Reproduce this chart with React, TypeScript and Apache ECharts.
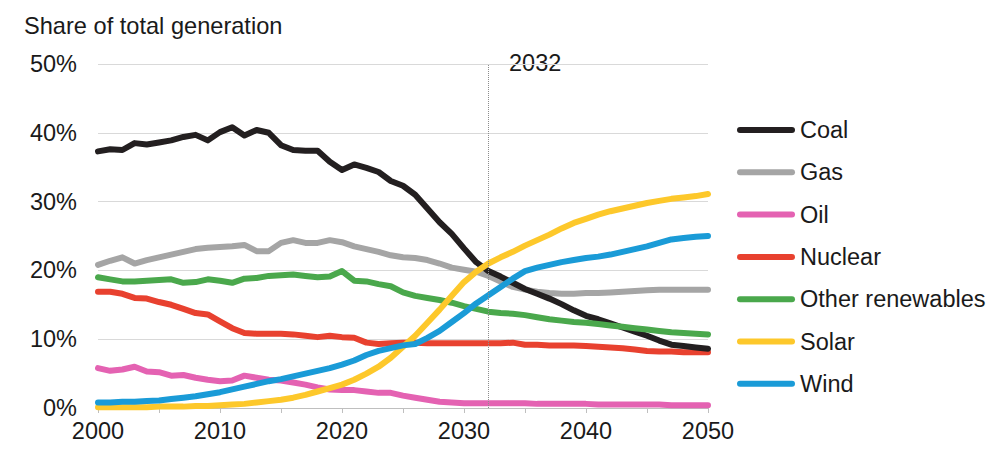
import React, { useEffect, useRef } from "react";
import * as echarts from "echarts";

const years: number[] = Array.from({ length: 51 }, (_, i) => 2000 + i);

const coal = [37.3, 37.6, 37.5, 38.5, 38.3, 38.6, 38.9, 39.4, 39.7, 38.9, 40.1, 40.8, 39.6, 40.4, 40.0, 38.2, 37.5, 37.4, 37.4, 35.8, 34.6, 35.4, 34.9, 34.3, 33.0, 32.3, 31.0, 29.0, 27.0, 25.3, 23.2, 21.2, 19.9, 19.1, 18.2, 17.3, 16.6, 15.9, 15.1, 14.2, 13.4, 12.9, 12.3, 11.7, 11.1, 10.5, 9.8, 9.2, 9.0, 8.8, 8.6];
const gas = [20.8, 21.4, 21.9, 21.0, 21.5, 21.9, 22.3, 22.7, 23.1, 23.3, 23.4, 23.5, 23.7, 22.8, 22.8, 24.0, 24.4, 24.0, 24.0, 24.4, 24.1, 23.5, 23.1, 22.7, 22.2, 21.9, 21.8, 21.5, 21.0, 20.4, 20.1, 19.8, 19.2, 18.4, 17.6, 17.2, 16.9, 16.7, 16.6, 16.6, 16.7, 16.7, 16.8, 16.9, 17.0, 17.1, 17.2, 17.2, 17.2, 17.2, 17.2];
const oil = [5.8, 5.4, 5.6, 6.0, 5.3, 5.2, 4.7, 4.8, 4.4, 4.1, 3.9, 4.0, 4.7, 4.4, 4.1, 4.0, 3.7, 3.4, 3.0, 2.7, 2.6, 2.6, 2.4, 2.2, 2.2, 1.8, 1.5, 1.2, 0.9, 0.8, 0.7, 0.7, 0.7, 0.7, 0.7, 0.7, 0.6, 0.6, 0.6, 0.6, 0.6, 0.5, 0.5, 0.5, 0.5, 0.5, 0.5, 0.4, 0.4, 0.4, 0.4];
const nuclear = [16.9, 16.9, 16.6, 16.0, 15.9, 15.4, 15.0, 14.4, 13.8, 13.6, 12.6, 11.6, 10.9, 10.8, 10.8, 10.8, 10.7, 10.5, 10.3, 10.5, 10.3, 10.2, 9.5, 9.3, 9.4, 9.5, 9.5, 9.4, 9.4, 9.4, 9.4, 9.4, 9.4, 9.4, 9.5, 9.2, 9.2, 9.1, 9.1, 9.1, 9.0, 8.9, 8.8, 8.7, 8.5, 8.3, 8.2, 8.2, 8.1, 8.1, 8.1];
const otherRenewables = [19.0, 18.7, 18.4, 18.4, 18.5, 18.6, 18.7, 18.2, 18.3, 18.7, 18.5, 18.2, 18.8, 18.9, 19.2, 19.3, 19.4, 19.2, 19.0, 19.1, 19.9, 18.5, 18.4, 18.0, 17.7, 16.8, 16.3, 16.0, 15.7, 15.3, 14.8, 14.4, 14.0, 13.8, 13.7, 13.5, 13.2, 12.9, 12.7, 12.5, 12.4, 12.2, 12.0, 11.8, 11.6, 11.4, 11.2, 11.0, 10.9, 10.8, 10.7];
const solar = [0.1, 0.1, 0.1, 0.1, 0.1, 0.2, 0.2, 0.2, 0.3, 0.3, 0.4, 0.5, 0.6, 0.8, 1.0, 1.2, 1.5, 1.9, 2.4, 2.9, 3.4, 4.1, 5.0, 6.0, 7.3, 8.9, 10.5, 12.4, 14.3, 16.3, 18.3, 19.8, 21.0, 21.9, 22.7, 23.6, 24.4, 25.2, 26.1, 26.9, 27.5, 28.1, 28.6, 29.0, 29.4, 29.8, 30.1, 30.4, 30.6, 30.8, 31.1];
const wind = [0.8, 0.8, 0.9, 0.9, 1.0, 1.1, 1.3, 1.5, 1.7, 2.0, 2.3, 2.7, 3.1, 3.5, 3.9, 4.2, 4.6, 5.0, 5.4, 5.8, 6.3, 6.9, 7.7, 8.3, 8.7, 9.1, 9.3, 10.2, 11.2, 12.5, 13.8, 15.2, 16.4, 17.6, 18.8, 19.9, 20.4, 20.8, 21.2, 21.5, 21.8, 22.0, 22.3, 22.7, 23.1, 23.5, 24.0, 24.5, 24.7, 24.9, 25.0];

const legendOrder = ["Coal", "Gas", "Oil", "Nuclear", "Other renewables", "Solar", "Wind"];
const markerYear = 2032;

const FONT = "'Liberation Sans', Arial, sans-serif";
const TEXT = "#1a1a1a";
const PILL = "path://M3,0 L55,0 A3,3 0 0 1 55,6 L3,6 A3,3 0 0 1 3,0 Z";

export default function App() {
  const ref = useRef<HTMLDivElement>(null);

  useEffect(() => {
    document.body.style.margin = "0";
    if (!ref.current) return;
    const chart = echarts.init(ref.current, undefined, { renderer: "svg" });

    const mk = (name: string, values: number[], color: string, extra: any = {}) => ({
      name,
      type: "line",
      data: years.map((y, i) => [y, values[i]]),
      symbol: "none",
      showSymbol: false,
      smooth: false,
      lineStyle: { color, width: 6, cap: "round", join: "round" },
      itemStyle: { color },
      ...extra,
    });

    const option: any = {
      animation: false,
      textStyle: { fontFamily: FONT },
      title: {
        text: "Share of total generation",
        left: 19,
        top: 9,
        textStyle: { fontFamily: FONT, fontSize: 23.6, fontWeight: "normal", color: TEXT },
      },
      grid: { left: 98, right: 292, top: 64, bottom: 60 },
      legend: {
        orient: "vertical",
        left: 732,
        top: 113,
        data: legendOrder,
        selectedMode: false,
        icon: PILL,
        itemWidth: 58,
        itemHeight: 6,
        itemGap: 18.3,
        textStyle: { fontFamily: FONT, fontSize: 23.5, color: TEXT, lineHeight: 23 },
      },
      xAxis: {
        type: "value",
        min: 2000,
        max: 2050,
        interval: 5,
        axisLine: { show: true, lineStyle: { color: "#bfbfbf", width: 1 } },
        axisTick: { show: true, length: 5, lineStyle: { color: "#bfbfbf" } },
        splitLine: { show: false },
        axisLabel: {
          margin: 11,
          fontFamily: FONT,
          fontSize: 23.5,
          color: TEXT,
          formatter: (v: number) => (v % 10 === 0 ? String(v) : ""),
        },
      },
      yAxis: {
        type: "value",
        min: 0,
        max: 50,
        interval: 10,
        axisLine: { show: false },
        axisTick: { show: false },
        splitLine: { show: true, lineStyle: { color: "#d9d9d9", width: 1 } },
        axisLabel: {
          margin: 21,
          fontFamily: FONT,
          fontSize: 23.5,
          color: TEXT,
          formatter: "{value}%",
        },
      },
      graphic: [
        {
          type: "text",
          left: 509,
          top: 51,
          style: { text: String(markerYear), fontFamily: FONT, fontSize: 23.5, fill: TEXT },
        },
      ],
      series: [
        mk("Gas", gas, "#a5a5a5", {
          markLine: {
            silent: true,
            symbol: ["none", "none"],
            label: { show: false },
            lineStyle: { color: "#8c8c8c", type: "dotted", width: 1 },
            data: [{ xAxis: markerYear }],
          },
        }),
        mk("Oil", oil, "#e462b2"),
        mk("Nuclear", nuclear, "#e8412f"),
        mk("Coal", coal, "#231f20"),
        mk("Other renewables", otherRenewables, "#4aa84c"),
        mk("Solar", solar, "#fdc82b"),
        mk("Wind", wind, "#1a9bd7"),
      ],
    };

    chart.setOption(option);
    return () => chart.dispose();
  }, []);

  return <div ref={ref} style={{ width: 1000, height: 468 }} />;
}
